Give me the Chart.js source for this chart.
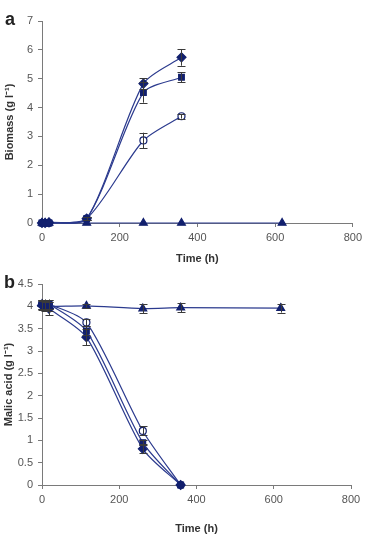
<!DOCTYPE html>
<html><head><meta charset="utf-8">
<script src="https://cdn.jsdelivr.net/npm/chart.js@4"></script>
<style>
html,body{margin:0;padding:0;background:#fff;}
body{width:366px;height:536px;position:relative;overflow:hidden;font-family:"Liberation Sans",Arial,sans-serif;}
.wrap{position:absolute;left:0;width:366px;}
.lbl{position:absolute;font-weight:bold;font-size:18px;color:#222;font-family:"Liberation Sans",Arial,sans-serif;}
</style></head>
<body>
<div class="wrap" style="top:0;height:266px;"><canvas id="c1" width="366" height="266"></canvas></div>
<div class="wrap" style="top:262px;height:274px;"><canvas id="c2" width="366" height="274"></canvas></div>
<div class="lbl" style="left:5px;top:9px;">a</div>
<div class="lbl" style="left:4px;top:272px;">b</div>
<script>
// Time points (h)
const timeEarly = [0, 8, 18, 115, 261, 359];
const timeAll = [0, 8, 18, 115, 261, 359, 618];

// (a) Biomass (g l-1)
const biomassDiamond = [0, 0, 0.02, 0.15, 4.83, 5.74];
const biomassSquare  = [0, 0, 0, 0.15, 4.52, 5.05];
const biomassCircle  = [0, 0, 0, 0.15, 2.86, 3.70];
const biomassTriangle = [0, 0, 0, 0, 0, 0, 0];
const biomassDiamondErr = [0, 0, 0, 0.05, 0.18, 0.29];
const biomassSquareErr  = [0, 0, 0, 0.05, 0.35, 0.18];
const biomassCircleErr  = [0, 0, 0, 0.05, 0.27, 0.08];

// (b) Malic acid (g l-1)
const malicDiamond = [4.02, 4.0, 3.95, 3.31, 0.81, 0];
const malicSquare  = [4.05, 4.05, 4.05, 3.45, 0.95, 0];
const malicCircle  = [4.05, 4.05, 4.05, 3.64, 1.21, 0];
const malicTriangle = [4.05, 4.02, 4.0, 4.01, 3.95, 3.97, 3.96];
const malicDiamondErr = [0.1, 0.1, 0.15, 0.18, 0.1, 0];
const malicSquareErr  = [0.1, 0.1, 0.1, 0.1, 0.06, 0];
const malicCircleErr  = [0.1, 0.1, 0.1, 0.08, 0.1, 0];
const malicTriangleErr = [0.1, 0.1, 0.1, 0.04, 0.1, 0.1, 0.1];

const xTicks = [0, 200, 400, 600, 800];

const lineColor = '#2b3a8e';
const markColor = '#12206e';
const axisColor = '#7a7a7a';
const tickColor = '#555';

function pts(xs, ys){ return ys.map((y,i)=>({x:xs[i], y:y})); }

function ds(label, xs, ys, err, style, radius, fill){
  return {
    label, data: pts(xs, ys), err,
    borderColor: lineColor, borderWidth: 1.2,
    pointStyle: style, pointRadius: radius,
    pointBackgroundColor: fill, pointBorderColor: markColor, pointBorderWidth: 1.2,
    tension: 0.25, cubicInterpolationMode: 'default', clip: false, fill: false
  };
}

const errorBars = {
  id: 'errorBars',
  afterDatasetsDraw(chart){
    const ctx = chart.ctx, ys = chart.scales.y;
    ctx.save();
    ctx.strokeStyle = '#3a3a3a';
    ctx.lineWidth = 1;
    chart.data.datasets.forEach((d, di) => {
      if (!d.err) return;
      const meta = chart.getDatasetMeta(di);
      meta.data.forEach((p, i) => {
        const e = d.err[i];
        if (!e) return;
        const v = d.data[i].y;
        const y1 = ys.getPixelForValue(v + e), y2 = ys.getPixelForValue(v - e);
        const x = Math.round(p.x) + 0.5;
        ctx.beginPath();
        ctx.moveTo(x, y1); ctx.lineTo(x, y2);
        ctx.moveTo(x - 4, Math.round(y1)+0.5); ctx.lineTo(x + 4, Math.round(y1)+0.5);
        ctx.moveTo(x - 4, Math.round(y2)+0.5); ctx.lineTo(x + 4, Math.round(y2)+0.5);
        ctx.stroke();
      });
    });
    ctx.restore();
  }
};

function makeChart(id, datasets, yOpts, yTitle, pad, xHeight){
  return new Chart(document.getElementById(id), {
    type: 'line',
    data: { datasets },
    plugins: [errorBars],
    options: {
      responsive: false, animation: false,
      layout: { padding: pad },
      elements: { line: { capBezierPoints: false } },
      plugins: { legend: { display: false }, tooltip: { enabled: false } },
      scales: {
        x: {
          type: 'linear', min: 0, max: 800,
          afterBuildTicks: s => { s.ticks = xTicks.map(v => ({value: v})); },
          afterFit: s => { s.height = xHeight; },
          grid: { drawOnChartArea: false, drawTicks: true, tickLength: 4, color: axisColor },
          border: { color: axisColor, width: 1 },
          ticks: { color: tickColor, font: { family: 'Liberation Sans', size: 11 }, padding: 4, maxRotation: 0 },
          title: { display: true, text: 'Time (h)', color: '#333', font: { family: 'Liberation Sans', size: 11, weight: 'bold' }, padding: { top: 6, bottom: 0 } }
        },
        y: Object.assign({
          afterFit: s => { s.width = 42 - pad.left; },
          grid: { drawOnChartArea: false, drawTicks: true, tickLength: 4, color: axisColor },
          border: { color: axisColor, width: 1 },
          title: { display: true, text: yTitle, color: '#333', font: { family: 'Liberation Sans', size: 11, weight: 'bold' }, padding: { top: 0, bottom: 2 } }
        }, yOpts)
      }
    }
  });
}

const yTickFont = { family: 'Liberation Sans', size: 11 };

makeChart('c1', [
  ds('diamond', timeEarly, biomassDiamond, biomassDiamondErr, 'rectRot', 4.5, markColor),
  ds('square', timeEarly, biomassSquare, biomassSquareErr, 'rect', 4, markColor),
  ds('circle', timeEarly, biomassCircle, biomassCircleErr, 'circle', 3.5, '#ffffff'),
  ds('triangle', timeAll, biomassTriangle, null, 'triangle', 4.5, markColor)
], {
  min: 0, max: 7,
  ticks: { stepSize: 1, color: tickColor, font: yTickFont, padding: 5, callback: v => String(v) }
}, 'Biomass (g l\u207B\u00B9)', { top: 21, right: 11, left: 3, bottom: 0 }, 43);

makeChart('c2', [
  ds('square', timeEarly, malicSquare, malicSquareErr, 'rect', 4, markColor),
  ds('diamond', timeEarly, malicDiamond, malicDiamondErr, 'rectRot', 4.5, markColor),
  ds('triangle', timeAll, malicTriangle, malicTriangleErr, 'triangle', 4.5, markColor),
  ds('circle', timeEarly, malicCircle, malicCircleErr, 'circle', 3.5, '#ffffff')
], {
  min: 0, max: 4.5,
  ticks: { stepSize: 0.5, color: tickColor, font: yTickFont, padding: 5, callback: v => String(Math.round(v * 10) / 10) }
}, 'Malic acid (g l\u207B\u00B9)', { top: 22, right: 15, left: 2, bottom: 0 }, 51);
</script>
</body></html>
